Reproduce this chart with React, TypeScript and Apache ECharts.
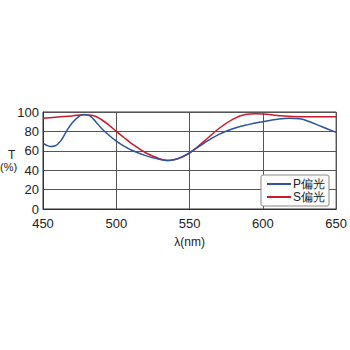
import React, { useEffect, useRef } from "react";
import * as echarts from "echarts";

const xTicks = [450, 500, 550, 600, 650];
const yTicks = [0, 20, 40, 60, 80, 100];

const pWave = [450, 452, 455, 458, 462, 466, 470, 475, 478, 482, 486, 490, 495, 500, 505, 510, 520, 530, 535, 540, 545, 550, 560, 570, 580, 590, 600, 610, 618, 625, 630, 640, 650];
const pVals = [68, 66, 64.5, 65, 70, 80, 89, 96, 97.5, 96, 90, 83, 76, 70, 65, 61, 55, 51, 50, 51, 54, 58, 68, 77, 83, 87, 90, 92.5, 93.5, 93, 91, 85, 79];

const sWave = [450, 460, 470, 478, 484, 490, 495, 500, 505, 510, 520, 530, 535, 540, 545, 550, 560, 570, 580, 588, 595, 600, 610, 620, 630, 640, 650];
const sVals = [93.5, 94.8, 96, 97.2, 96.5, 92, 86.5, 80, 74, 68, 58, 51.5, 50, 51, 53.5, 57.5, 70, 83, 93, 97.5, 98.2, 98, 96.5, 95.3, 95, 95, 95];

export default function App() {
  const ref = useRef<HTMLDivElement>(null);
  useEffect(() => {
    if (!ref.current) return;
    const chart = echarts.init(ref.current, null, { renderer: "svg" });
    const pData = pWave.map((x, i) => [x, pVals[i]]);
    const sData = sWave.map((x, i) => [x, sVals[i]]);
    chart.setOption({
      animation: false,
      backgroundColor: "#fff",
      textStyle: { fontFamily: "Liberation Sans, Arial, sans-serif" },
      grid: { left: 43, right: 13, top: 112, bottom: 141, show: true, borderColor: "#333", borderWidth: 1 },
      xAxis: {
        type: "value",
        min: 450,
        max: 650,
        interval: 50,
        axisLine: { show: true, lineStyle: { color: "#333", width: 1 } },
        axisTick: { show: false },
        splitLine: { show: true, lineStyle: { color: "#555", width: 1 } },
        axisLabel: { color: "#222", fontSize: 13, margin: 8, formatter: (v: number) => String(v) },
        name: "λ(nm)",
        nameLocation: "middle",
        nameGap: 27,
        nameTextStyle: { color: "#222", fontSize: 12 },
      },
      yAxis: {
        type: "value",
        min: 0,
        max: 100,
        interval: 20,
        axisLine: { show: true, lineStyle: { color: "#333", width: 1 } },
        axisTick: { show: false },
        splitLine: { show: true, lineStyle: { color: "#555", width: 1 } },
        axisLabel: { color: "#222", fontSize: 13, margin: 4 },
      },
      graphic: [
        { type: "text", left: 8, top: 149, style: { text: "T", fontSize: 12, fill: "#222", fontFamily: "Liberation Sans, Arial, sans-serif" } },
        { type: "text", left: 0, top: 161, style: { text: "(%)", fontSize: 11, fill: "#222", fontFamily: "Liberation Sans, Arial, sans-serif" } },
      ],
      legend: {
        right: 21,
        top: 175,
        orient: "vertical",
        backgroundColor: "#fff",
        borderColor: "#888",
        borderWidth: 1,
        borderRadius: 2,
        padding: [3, 4, 3, 6],
        itemGap: 1,
        itemWidth: 24,
        itemHeight: 2,
        icon: "rect",
        textStyle: { color: "#222", fontSize: 12, padding: [0, 0, 0, -3] },
        data: ["P偏光", "S偏光"],
      },
      series: [
        {
          name: "P偏光",
          type: "line",
          data: pData,
          smooth: 0.4,
          showSymbol: false,
          lineStyle: { color: "#2a559e", width: 1.5 },
          itemStyle: { color: "#2a559e" },
          z: 3,
        },
        {
          name: "S偏光",
          type: "line",
          data: sData,
          smooth: 0.4,
          showSymbol: false,
          lineStyle: { color: "#cc1a2a", width: 1.5 },
          itemStyle: { color: "#cc1a2a" },
          z: 2,
        },
      ],
    });
    return () => chart.dispose();
  }, []);
  return <div ref={ref} style={{ width: 350, height: 350, position: "absolute", left: 0, top: 0 }} />;
}
